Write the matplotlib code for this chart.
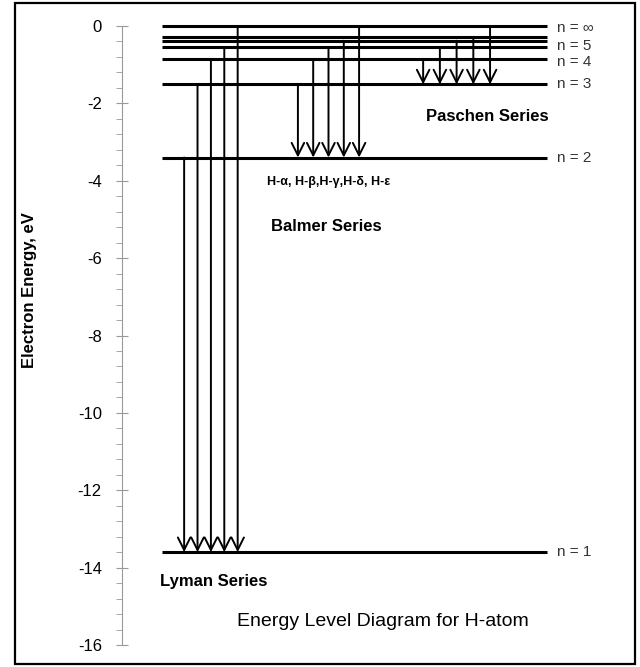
import matplotlib.pyplot as plt
import matplotlib.patches as mpatches
from matplotlib.ticker import MultipleLocator

plt.rcParams['font.family'] = ['Liberation Sans', 'DejaVu Sans']
plt.rcParams['axes.unicode_minus'] = False

# energy levels of the H atom, eV
levels = ['1', '2', '3', '4', '5', '6', '7', 'inf']
energies = [-13.6, -3.4, -1.51, -0.85, -0.54, -0.38, -0.28, 0.0]
level_labels = {'1': 'n = 1', '2': 'n = 2', '3': 'n = 3', '4': 'n = 4',
                '5': 'n = 5', 'inf': 'n = \u221e'}

# transitions drawn for each series (upper levels -> lower level)
lyman_upper = ['2', '3', '4', '5', 'inf']
balmer_upper = ['3', '4', '5', '6', 'inf']
paschen_upper = ['4', '5', '6', '7', 'inf']
series = [
    ('Lyman Series', lyman_upper, '1'),
    ('Balmer Series', balmer_upper, '2'),
    ('Paschen Series', paschen_upper, '3'),
]
balmer_lines = 'H-\u03b1, H-\u03b2,H-\u03b3,H-\u03b4, H-\u03b5'

E = dict(zip(levels, energies))

fig = plt.figure(figsize=(6.4, 6.67), dpi=100)
ax = fig.add_axes([122 / 640, 22 / 667, 478 / 640, 619 / 667])

# layout of the arrow groups (x in axes fraction)
x_start = {'Lyman Series': 0.130, 'Balmer Series': 0.368, 'Paschen Series': 0.630}
x_step = {'Lyman Series': 0.028, 'Balmer Series': 0.032, 'Paschen Series': 0.035}
# small vertical nudges so the crowded labels near the top don't collide
label_nudge = {'inf': -0.05, '5': 0.02, '4': -0.09}

for lev in levels:
    ax.plot([0.084, 0.889], [E[lev], E[lev]], color='black', lw=2.2,
            solid_capstyle='butt', clip_on=False)
    if lev in level_labels:
        ax.text(0.91, E[lev] + label_nudge.get(lev, 0), level_labels[lev],
                ha='left', va='center', fontsize=11, color='#333333')

for name, uppers, lower in series:
    for i, up in enumerate(uppers):
        x = x_start[name] + i * x_step[name]
        ax.annotate('', xy=(x, E[lower]), xytext=(x, E[up]),
                    arrowprops=dict(arrowstyle='->,head_length=0.5,head_width=0.25',
                                    mutation_scale=18, lw=1.4, color='black',
                                    shrinkA=0, shrinkB=0),
                    annotation_clip=False)

ax.text(0.764, -2.33, 'Paschen Series', ha='center', va='center',
        fontsize=12, fontweight='bold')
ax.text(0.433, -4.03, balmer_lines, ha='center', va='center',
        fontsize=9, fontweight='bold')
ax.text(0.427, -5.17, 'Balmer Series', ha='center', va='center',
        fontsize=12, fontweight='bold')
ax.text(0.079, -14.37, 'Lyman Series', ha='left', va='center',
        fontsize=12, fontweight='bold')
ax.text(0.546, -15.4, 'Energy Level Diagram for H-atom', ha='center',
        va='center', fontsize=14)

ax.set_xlim(0, 1)
ax.set_ylim(-16, 0)
ax.set_xticks([])
ax.yaxis.set_major_locator(MultipleLocator(2))
ax.yaxis.set_minor_locator(MultipleLocator(0.4))
for s in ['top', 'right', 'bottom']:
    ax.spines[s].set_visible(False)
ax.spines['left'].set_color('#999999')
ax.tick_params(axis='y', which='major', direction='inout', length=9,
               color='#999999', labelsize=12, pad=10)
ax.tick_params(axis='y', which='minor', direction='out', length=4,
               color='#999999')
ax.patch.set_visible(False)

fig.text(30 / 640, 1 - 290 / 667, 'Electron Energy, eV', rotation=90,
         ha='center', va='center', fontsize=12, fontweight='bold')

fig.patches.append(mpatches.Rectangle((15 / 640, 3 / 667), 620 / 640, 661 / 667,
                                      transform=fig.transFigure, fill=False,
                                      lw=1.6, edgecolor='black'))

fig.savefig('out.png', dpi=100)
